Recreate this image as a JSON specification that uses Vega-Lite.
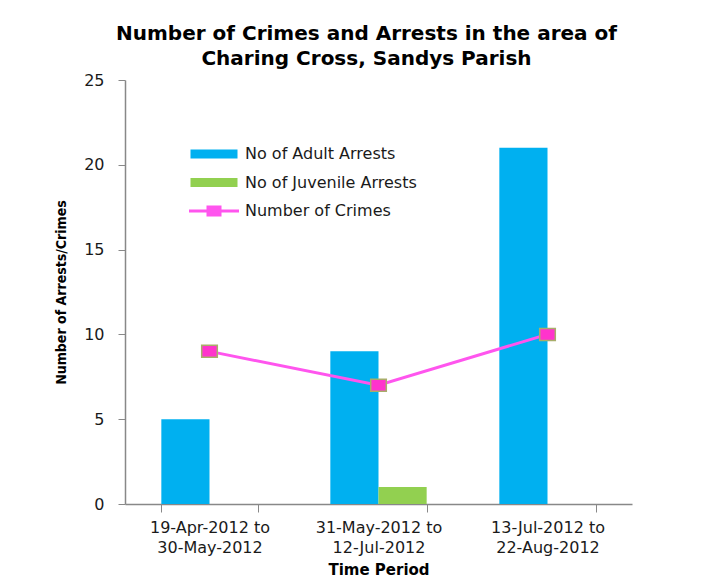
{
  "$schema": "https://vega.github.io/schema/vega-lite/v6.json",
  "width": 507,
  "height": 424,
  "autosize": {"type": "none"},
  "padding": {"left": 125, "top": 80, "right": 76, "bottom": 76},
  "background": "white",
  "config": {"view": {"stroke": null}},
  "title": {
    "text": ["Number of Crimes and Arrests in the area of", "Charing Cross, Sandys Parish"],
    "font": "DejaVu Sans",
    "fontSize": 20,
    "fontWeight": "bold",
    "color": "#000000",
    "lineHeight": 25,
    "anchor": "middle",
    "dx": -12,
    "offset": 3
  },
  "datasets": {
    "arrests": [
      {"period": "19-Apr-2012 to 30-May-2012", "series": "No of Adult Arrests", "value": 5},
      {"period": "19-Apr-2012 to 30-May-2012", "series": "No of Juvenile Arrests", "value": 0},
      {"period": "31-May-2012 to 12-Jul-2012", "series": "No of Adult Arrests", "value": 9},
      {"period": "31-May-2012 to 12-Jul-2012", "series": "No of Juvenile Arrests", "value": 1},
      {"period": "13-Jul-2012 to 22-Aug-2012", "series": "No of Adult Arrests", "value": 21},
      {"period": "13-Jul-2012 to 22-Aug-2012", "series": "No of Juvenile Arrests", "value": 0}
    ],
    "crimes": [
      {"period": "19-Apr-2012 to 30-May-2012", "crimes": 9},
      {"period": "31-May-2012 to 12-Jul-2012", "crimes": 7},
      {"period": "13-Jul-2012 to 22-Aug-2012", "crimes": 10}
    ]
  },
  "encoding": {
    "x": {
      "field": "period",
      "type": "nominal",
      "sort": null,
      "scale": {"paddingInner": 0.43, "paddingOuter": 0.215},
      "axis": {
        "title": "Time Period",
        "titleFont": "DejaVu Sans",
        "titleFontSize": 15,
        "titleFontWeight": "bold",
        "titleColor": "#000000",
        "titlePadding": 7,
        "labelAngle": 0,
        "labelFont": "DejaVu Sans",
        "labelFontSize": 16,
        "labelColor": "#1a1a1a",
        "labelLineHeight": 20,
        "labelPadding": 7,
        "labelExpr": "[substring(datum.label, 0, indexof(datum.label, ' to ') + 3), substring(datum.label, indexof(datum.label, ' to ') + 4)]",
        "tickBand": "extent",
        "tickSize": 8,
        "tickColor": "#888888",
        "domainColor": "#888888",
        "domainWidth": 1.5,
        "grid": false
      }
    }
  },
  "layer": [
    {
      "data": {"name": "arrests"},
      "mark": {"type": "bar"},
      "encoding": {
        "xOffset": {"field": "series", "type": "nominal", "sort": ["No of Adult Arrests", "No of Juvenile Arrests"], "scale": {"paddingInner": 0, "paddingOuter": 0}},
        "y": {
          "field": "value",
          "type": "quantitative",
          "scale": {"domain": [0, 25], "nice": false},
          "axis": {
            "title": "Number of Arrests/Crimes",
            "titleFont": "DejaVu Sans Condensed",
            "titleFontSize": 14,
            "titleFontWeight": "bold",
            "titleColor": "#000000",
            "titlePadding": 15,
            "values": [0, 5, 10, 15, 20, 25],
            "labelFont": "DejaVu Sans",
            "labelFontSize": 16,
            "labelColor": "#1a1a1a",
            "labelPadding": 14,
            "tickSize": 7,
            "tickColor": "#888888",
            "domainColor": "#888888",
            "domainWidth": 1.5,
            "grid": false
          }
        },
        "color": {
          "field": "series",
          "type": "nominal",
          "scale": {
            "domain": ["No of Adult Arrests", "No of Juvenile Arrests", "Number of Crimes"],
            "range": ["#00B0F0", "#92D050", "#FF55EE"]
          },
          "legend": {
            "title": null,
            "orient": "none",
            "legendX": 81,
            "legendY": 66,
            "padding": 0,
            "symbolSize": 100,
            "symbolStrokeWidth": 0,
            "labelOffset": 23,
            "labelLimit": 0,
            "rowPadding": 12.5,
            "labelFont": "DejaVu Sans",
            "labelFontSize": 16,
            "labelColor": "#1a1a1a",
            "encode": {
              "symbols": {
                "update": {
                  "shape": {"signal": "datum.value === 'Number of Crimes' ? 'M-5,-0.3H5V0.3H-5ZM-1.5,-1.1H1.5V1.1H-1.5Z' : 'M-4.7,-0.9H4.7V0.9H-4.7Z'"},
                  "fill": {"signal": "scale('color', datum.value)"},
                  "stroke": {"value": "transparent"},
                  "opacity": {"value": 1}
                }
              }
            }
          }
        }
      }
    },
    {
      "data": {"name": "crimes"},
      "mark": {"type": "line", "strokeWidth": 3},
      "encoding": {
        "y": {"field": "crimes", "type": "quantitative"},
        "color": {"datum": "Number of Crimes"}
      }
    },
    {
      "data": {"name": "crimes"},
      "mark": {"type": "point", "shape": "M-1.3,-1H1.3V1H-1.3Z", "size": 144, "filled": true, "fill": "#FF33CC", "stroke": "#A8AD6A", "strokeWidth": 1.5, "opacity": 1},
      "encoding": {
        "y": {"field": "crimes", "type": "quantitative"}
      }
    }
  ]
}
